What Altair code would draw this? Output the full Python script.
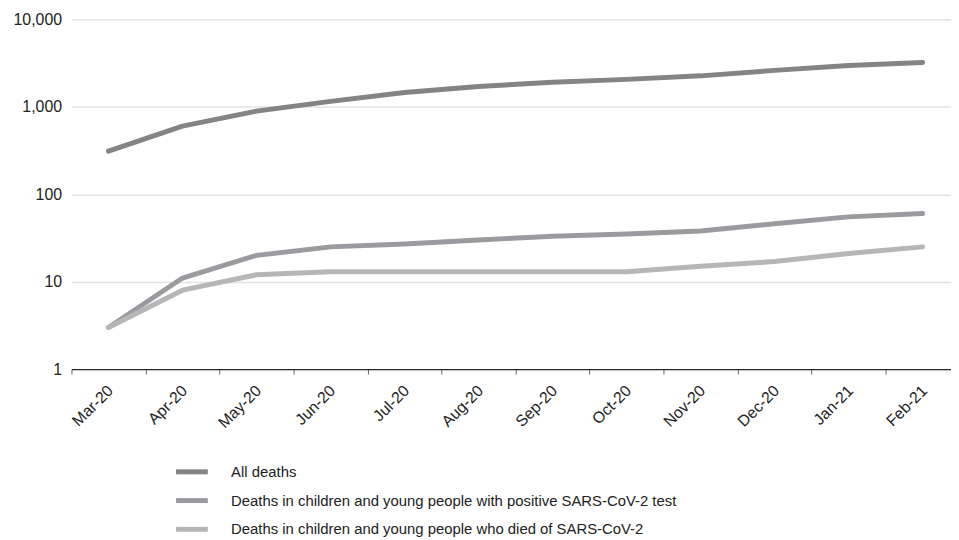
import altair as alt
import pandas as pd

months = ["Mar-20", "Apr-20", "May-20", "Jun-20", "Jul-20", "Aug-20",
          "Sep-20", "Oct-20", "Nov-20", "Dec-20", "Jan-21", "Feb-21"]
all_deaths = [310, 600, 890, 1150, 1450, 1700, 1900, 2050, 2250, 2600, 2950, 3200]
positive_test = [3, 11, 20, 25, 27, 30, 33, 35, 38, 46, 55, 60]
died_of = [3, 8, 12, 13, 13, 13, 13, 13, 15, 17, 21, 25]
series_names = [
    "All deaths",
    "Deaths in children and young people with positive SARS-CoV-2 test",
    "Deaths in children and young people who died of SARS-CoV-2",
]
series_colors = ["#848487", "#9b9b9f", "#b6b6b9"]
y_ticks = [1, 10, 100, 1000, 10000]

rows = []
for name, vals in zip(series_names, [all_deaths, positive_test, died_of]):
    for i, (m, v) in enumerate(zip(months, vals)):
        rows.append({"idx": i, "month": m, "value": v, "series": name})
df = pd.DataFrame(rows)

tick_vals = [i - 0.5 for i in range(12)] + list(range(12))
month_js = "[" + ",".join("'" + m + "'" for m in months) + "]"
FONT = "Liberation Sans"

chart = alt.Chart(df).mark_line(strokeWidth=5, strokeCap="round", strokeJoin="round").encode(
    x=alt.X("idx:Q",
            scale=alt.Scale(domain=[-0.5, 11.384], nice=False, zero=False),
            axis=alt.Axis(
                title=None, grid=False, values=tick_vals,
                labelExpr="datum.value % 1 === 0 ? " + month_js + "[datum.value] : ''",
                labelAngle=-45, labelAlign="right", labelBaseline="top",
                labelOverlap=False, labelFlush=False, labelBound=False,
                labelFont=FONT, labelFontSize=16, labelColor="#222222",
                labelPadding=8, labelOffset=-4,
                tickSize=5, tickColor="#666666",
                tickOpacity={"condition": {"test": "datum.value % 1 === 0", "value": 0}, "value": 1},
                domainColor="#000000", domainWidth=1,
            )),
    y=alt.Y("value:Q",
            scale=alt.Scale(type="log", domain=[1, 10000], nice=False),
            axis=alt.Axis(
                title=None, values=y_ticks, format=",", ticks=False, domain=False,
                grid=True, gridColor="#e2e3e3", gridWidth=1.5,
                labelFont=FONT, labelFontSize=16, labelColor="#222222",
                labelPadding=10,
            )),
    color=alt.Color("series:N",
                    scale=alt.Scale(domain=series_names, range=series_colors),
                    sort=series_names,
                    legend=alt.Legend(
                        title=None, orient="none", legendX=103, legendY=438,
                        direction="vertical",
                        symbolType="stroke", symbolStrokeWidth=5, symbolSize=1024,
                        labelFont=FONT, labelFontSize=15, labelColor="#222222",
                        labelOffset=21, rowPadding=-5, labelLimit=800,
                    )),
    order=alt.Order("idx:Q"),
).properties(
    width=887, height=353,
    autosize=alt.AutoSizeParams(type="none"),
    padding={"left": 64, "top": 9, "right": 0, "bottom": 170},
).configure_view(stroke=None).configure_axisY(gridDash=[])

chart.save("out.html", embed_options={"renderer": "svg", "actions": False})
